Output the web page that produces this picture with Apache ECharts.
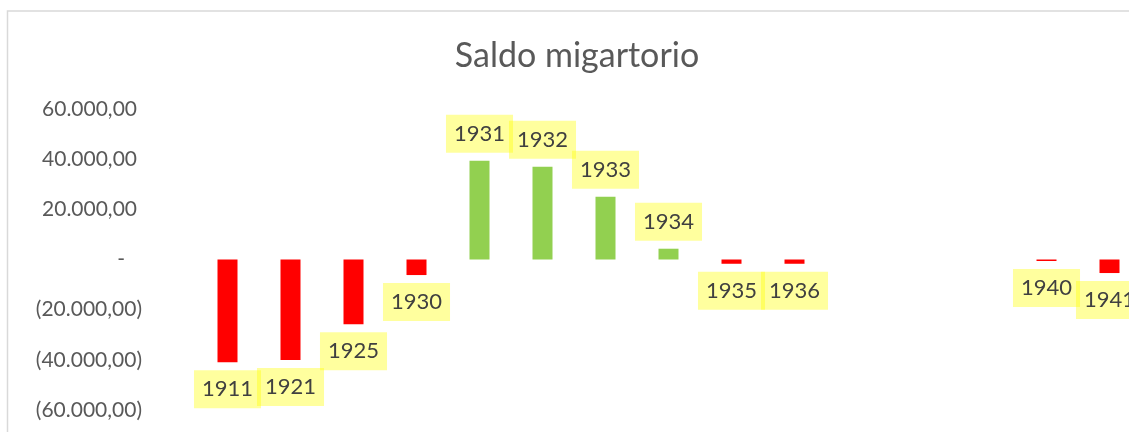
<!DOCTYPE html>
<html>
<head>
<meta charset="utf-8">
<script src="https://cdn.jsdelivr.net/npm/echarts@6/dist/echarts.min.js"></script>
<style>
  html, body { margin: 0; padding: 0; background: #fff; }
  #chart { width: 1129px; height: 432px; }
</style>
</head>
<body>
<div id="chart"></div>
<script>
// anni e saldo migratorio
const years = ["1911", "1921", "1925", "1930", "1931", "1932", "1933", "1934", "1935", "1936", "1937", "1938", "1939", "1940", "1941"];
const saldo = [-41000, -40100, -25800, -6200, 39400, 37000, 25000, 4300, -1700, -1700, null, null, null, -600, -5400];
const yTicks = [-60000, -40000, -20000, 0, 20000, 40000, 60000];

// formato contabile stile Excel: 60.000,00 / (20.000,00) / -
function fmt(v) {
  if (v === 0) return "{z|-}";
  const s = Math.abs(v).toLocaleString("de-DE", { minimumFractionDigits: 2, maximumFractionDigits: 2 });
  return v < 0 ? "(" + s + ")" : "{p|" + s + "}";
}

const chart = echarts.init(document.getElementById("chart"));
const option = {
  animation: false,
  title: {
    text: "Saldo migartorio",
    left: 572,
    top: 34,
    textAlign: "center",
    textStyle: { fontFamily: "Lato", fontSize: 34, fontWeight: "normal", color: "#595959" }
  },
  graphic: [{
    type: "rect",
    silent: true,
    z: -10,
    shape: { x: 7.5, y: 11, width: 1400, height: 600 },
    style: { fill: "none", stroke: "#d9d9d9", lineWidth: 1.5 }
  }],
  // l'area del grafico prosegue oltre il bordo destro come nell'originale
  grid: { left: 196, width: 945, top: 109, height: 301, containLabel: false, outerBoundsMode: "none" },
  xAxis: {
    type: "category",
    data: years,
    axisLine: { show: false },
    axisTick: { show: false },
    axisLabel: { show: false },
    splitLine: { show: false }
  },
  yAxis: {
    type: "value",
    min: yTicks[0],
    max: yTicks[yTicks.length - 1],
    interval: 20000,
    axisLine: { show: false },
    axisTick: { show: false },
    splitLine: { show: false },
    axisLabel: {
      margin: 54,
      fontFamily: "Lato",
      fontSize: 21,
      color: "#595959",
      formatter: fmt,
      rich: {
        p: { fontFamily: "Lato", fontSize: 21, color: "#595959", padding: [0, 5, 0, 0] },
        z: { fontFamily: "Lato", fontSize: 21, color: "#595959", padding: [0, 17, 0, 0] }
      }
    }
  },
  series: [{
    type: "bar",
    data: saldo,
    barWidth: 20,
    itemStyle: {
      color: function (p) { return p.value < 0 ? "#ff0000" : "#92d050"; }
    },
    label: {
      show: true,
      position: "outside",
      distance: 8,
      formatter: "{b}",
      fontFamily: "Lato",
      fontSize: 22,
      lineHeight: 22,
      color: "#404040",
      backgroundColor: "rgba(255,255,0,0.38)",
      padding: [8, 8, 8, 8]
    }
  }]
};
chart.setOption(option);
</script>
</body>
</html>
